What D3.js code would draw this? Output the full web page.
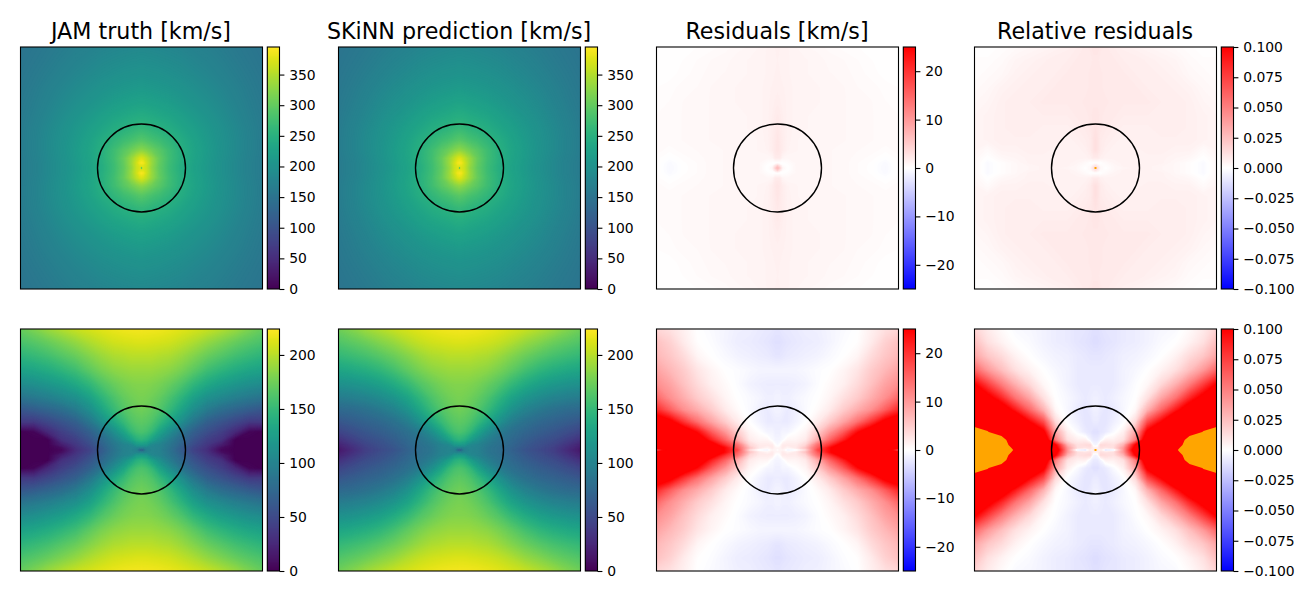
<!DOCTYPE html>
<html>
<head>
<meta charset="utf-8">
<title>JAM vs SKiNN</title>
<script src="https://cdn.jsdelivr.net/npm/d3@7"></script>
<style>
  body { margin: 0; background: #fff; }
  text { font-family: "DejaVu Sans", sans-serif; fill: #000; }
</style>
</head>
<body>
<script>
// each field is symmetric, so only one quadrant is kept
// rows go out from the centre along y, columns along x (gridNodes, image half width = 121)
const gridNodes = [0, 2, 5, 10, 18, 28, 40, 52, 66, 80, 94, 108, 121]
const circleRadius = 44

const titles = ["JAM truth [km/s]", "SKiNN prediction [km/s]", "Residuals [km/s]", "Relative residuals"]

const ticksVelTop = [0, 50, 100, 150, 200, 250, 300, 350]
const ticksVelBottom = [0, 50, 100, 150, 200]
const ticksRes = [-20, -10, 0, 10, 20]
const ticksRel = [-0.1, -0.075, -0.05, -0.025, 0, 0.025, 0.05, 0.075, 0.1]

const truthTop = [
  [215,372,362,332,298,270,245,228,212,198,185,172,163],
  [374,374,364,334,299,270,245,228,212,198,185,172,163],
  [392,386,366,336,300,271,247,229,213,198,185,172,163],
  [372,368,356,334,302,273,248,230,214,199,186,173,163],
  [325,323,318,308,292,271,248,231,215,200,187,174,164],
  [290,288,285,279,271,258,243,228,213,199,187,174,164],
  [262,262,260,256,250,243,232,221,209,197,185,173,163],
  [243,243,242,240,236,231,222,213,203,192,181,170,162],
  [226,226,225,224,221,217,210,203,195,186,176,167,160],
  [213,213,212,211,209,206,201,195,188,180,172,164,158],
  [202,202,201,200,199,196,192,187,181,174,167,161,156],
  [193,193,192,192,190,188,185,180,175,169,163,158,154],
  [185,185,185,184,183,181,178,174,170,165,160,156,152]
]
const predTop = [
  [220,374,363,332,298,271,246,229,213,198,185,172,163],
  [376,376,365,334,300,271,246,229,213,198,185,172,163],
  [392,387,367,337,301,272,248,230,214,199,185,172,163],
  [374,370,357,335,303,274,249,231,215,200,186,173,164],
  [328,325,320,309,293,272,249,232,216,201,188,175,165],
  [292,290,287,280,272,259,244,229,214,200,188,175,165],
  [264,264,262,257,251,244,233,222,210,198,186,174,164],
  [245,245,244,241,237,232,223,214,204,193,182,171,162],
  [228,228,227,225,222,218,211,204,196,187,177,167,160],
  [214,214,213,212,210,207,202,196,189,181,172,164,158],
  [203,203,202,201,200,197,193,188,182,175,167,161,156],
  [194,194,193,193,191,189,186,181,176,169,163,158,154],
  [186,186,186,185,184,182,179,175,170,165,160,156,152]
]
const resTop = [
  [7,5,1,0,.8,.8,.8,.8,.7,.4,.1,-.6,.3],
  [5,3,.5,0,.8,.8,.8,.8,.7,.4,.1,-.6,.3],
  [0,0,0,.3,.8,.8,.8,.8,.7,.4,.15,-.5,.3],
  [2,2,1,.8,.9,.8,.8,.8,.7,.5,.3,-.1,.3],
  [2.5,2.3,1.8,1.2,1,.9,.9,.8,.7,.6,.5,.3,.5],
  [2.5,2.2,1.8,1.3,1,.9,.9,.8,.8,.7,.6,.5,.5],
  [2.2,2,1.7,1.3,1.1,1,.9,.9,.8,.7,.6,.5,.5],
  [2,1.9,1.6,1.3,1.1,1,.9,.9,.8,.7,.6,.5,.4],
  [1.7,1.6,1.5,1.3,1.1,1,1,.9,.8,.7,.6,.4,.3],
  [1.5,1.5,1.4,1.3,1.1,1,1,.9,.8,.6,.5,.3,.2],
  [1.4,1.4,1.3,1.2,1.1,1,.9,.8,.7,.5,.3,.1,.1],
  [1.4,1.3,1.3,1.2,1.1,1,.9,.7,.6,.4,.2,.1,.1],
  [1.4,1.4,1.3,1.2,1,.8,.7,.5,.3,.2,.1,0,0]
]
const relTop = [
  [.012,.012,.003,0,.003,.004,.005,.005,.004,.003,.001,-.002,.003],
  [.012,.008,.002,.001,.003,.005,.005,.005,.004,.003,.001,-.002,.003],
  [0,0,0,.002,.004,.005,.005,.005,.005,.003,.001,-.002,.003],
  [.008,.008,.006,.005,.005,.005,.005,.005,.005,.004,.003,0,.003],
  [.012,.011,.008,.006,.005,.005,.005,.006,.006,.005,.005,.002,.004],
  [.012,.011,.008,.007,.006,.005,.006,.006,.006,.006,.006,.005,.004],
  [.011,.01,.009,.008,.007,.006,.006,.006,.007,.007,.006,.005,.004],
  [.01,.01,.009,.008,.008,.007,.007,.007,.007,.007,.006,.005,.004],
  [.009,.009,.009,.009,.008,.008,.008,.008,.007,.007,.006,.004,.003],
  [.009,.009,.009,.008,.008,.008,.008,.007,.007,.006,.005,.003,.002],
  [.009,.009,.009,.008,.008,.008,.007,.007,.006,.005,.003,.002,.001],
  [.009,.009,.008,.008,.008,.007,.007,.006,.005,.004,.002,.001,.001],
  [.01,.01,.009,.008,.007,.006,.005,.004,.003,.002,.001,0,0]
]
const truthBottom = [
  [60,75,95,102,98,85,65,45,30,5,0,0,0],
  [95,95,100,102,99,86,66,47,32,8,0,0,0],
  [122,120,118,105,100,88,70,52,36,18,0,0,0],
  [145,143,140,128,112,94,75,58,42,32,0,0,0],
  [160,159,157,150,130,110,87,68,54,42,26,3,0],
  [168,167,166,162,150,132,110,88,68,58,48,38,38],
  [175,174,173,170,163,150,130,110,92,80,72,65,60],
  [178,178,177,175,170,160,145,127,112,104,96,90,85],
  [182,182,182,181,178,172,162,148,135,125,118,112,108],
  [190,190,190,190,188,185,178,168,155,146,138,132,128],
  [200,200,200,200,198,196,190,182,172,164,156,150,145],
  [212,212,212,211,210,208,203,197,188,180,172,165,160],
  [221,220,220,220,219,217,214,210,205,198,190,180,172]
]
const predBottom = [
  [60,75,95,102,98,88,80,70,58,50,42,28,15],
  [95,95,100,102,99,88,80,71,60,52,43,30,18],
  [122,120,118,106,100,90,82,73,62,54,46,34,22],
  [145,143,140,128,112,96,85,76,66,58,52,42,32],
  [160,159,157,150,131,111,93,82,73,66,60,53,46],
  [168,167,166,162,151,133,113,95,83,75,70,65,60],
  [175,174,173,170,163,151,132,114,99,90,83,78,76],
  [178,178,177,175,170,161,146,130,116,107,100,96,93],
  [182,182,182,181,178,172,163,150,137,127,120,115,113],
  [190,190,190,190,188,185,178,169,157,147,140,135,132],
  [200,200,200,200,198,196,190,182,173,165,158,153,149],
  [212,212,212,211,210,208,204,198,189,182,174,168,163],
  [221,220,220,220,219,217,214,210,205,198,191,182,175]
]
const resBottom = [
  [0,1,1,-1.5,-1,3,18,24,30,30,30,28,15],
  [1,1,2,1,2,6,16,24,30,30,30,30,25],
  [-.5,0,2,2,2,4,14,20,28,30,30,30,30],
  [-1,-1,-.5,1,1,2,8,15,22,30,30,30,30],
  [-1.5,-1.5,-1,-1,0,1,5,10,16,24,30,30,30],
  [-1.8,-1.8,-2,-2,-1.2,0,2,5,9,14,20,27,30],
  [-1.2,-1.2,-1.5,-2,-1.5,-.5,.5,2,5,8,11,16,21],
  [-1.2,-1.2,-1.5,-1.5,-1,-.5,0,1,3,5,8,11,15],
  [-1.8,-1.8,-1.8,-1.8,-1.6,-1.2,-.3,.5,1.5,3.5,6,9,11],
  [-1,-1,-1,-1,-1,-.7,-.3,0,1,2.5,5,7,9],
  [-2.5,-2.5,-2.3,-2,-1.8,-1.5,-1.2,-.6,0,1,3.5,5.5,7],
  [-3,-3,-2.8,-2.5,-2.2,-1.9,-1.7,-1.1,-.3,.2,2,4.5,6],
  [-2.5,-2.5,-2.3,-2.2,-2,-1.6,-1.5,-1,-.5,0,1.5,3,4]
]
// values above overLimit are the orange pixels
const overLimit = 0.2
const relBottom = [
  [.01,.008,.005,-.018,-.012,.04,.12,.18,.19,.19,.25,.25,.25],
  [.006,.006,.012,.01,.012,.04,.11,.17,.18,.18,.25,.25,.25],
  [-.004,-.002,.015,.014,.012,.03,.10,.16,.18,.15,.25,.25,.25],
  [-.008,-.008,-.004,.006,.006,.012,.05,.13,.18,.105,.25,.25,.25],
  [-.012,-.012,-.01,-.008,-.002,.006,.035,.105,.17,.17,.15,.205,.25],
  [-.008,-.008,-.01,-.01,-.006,-.001,.015,.07,.10,.14,.15,.15,.15],
  [-.006,-.006,-.008,-.01,-.008,-.003,.003,.03,.06,.09,.12,.14,.15],
  [-.006,-.006,-.007,-.008,-.006,-.003,0,.012,.035,.055,.085,.11,.13],
  [-.008,-.008,-.008,-.008,-.008,-.005,-.001,.003,.015,.03,.05,.075,.10],
  [-.008,-.008,-.008,-.008,-.008,-.005,-.003,0,.005,.012,.025,.04,.06],
  [-.01,-.01,-.01,-.009,-.008,-.006,-.005,-.003,0,.005,.014,.022,.035],
  [-.013,-.013,-.012,-.011,-.01,-.008,-.007,-.005,-.002,0,.005,.012,.025],
  [-.012,-.012,-.011,-.01,-.01,-.008,-.007,-.005,-.003,-.002,.002,.008,.017]
]
// single orange pixel in the middle of the relative residual maps
const centrePixel = {at: 0, size: 2}

const panelLeft = [20.5, 338.5, 656.5, 974.5]
const panelTop = [47, 329]
const panelSize = 242
const levels = 256

const bwr = ([lo, hi]) => d3.scaleLinear().domain([lo, 0, hi]).range(["#0000ff", "#ffffff", "#ff0000"]).clamp(true)
const vir = ([lo, hi]) => d3.scaleSequential(d3.interpolateViridis).domain([lo, hi]).clamp(true)

// row, column, quadrant, colour scale, range, ticks, tick format
const panels = [
  {r: 0, c: 0, q: truthTop, cmap: vir, dom: [0, 395], ticks: ticksVelTop, fmt: d3.format("d")},
  {r: 0, c: 1, q: predTop, cmap: vir, dom: [0, 395], ticks: ticksVelTop, fmt: d3.format("d")},
  {r: 0, c: 2, q: resTop, cmap: bwr, dom: [-25, 25], ticks: ticksRes, fmt: d3.format("d")},
  {r: 0, c: 3, q: relTop, cmap: bwr, dom: [-0.1, 0.1], ticks: ticksRel, fmt: d3.format(".3f"), over: true},
  {r: 1, c: 0, q: truthBottom, cmap: vir, dom: [0, 224], ticks: ticksVelBottom, fmt: d3.format("d")},
  {r: 1, c: 1, q: predBottom, cmap: vir, dom: [0, 224], ticks: ticksVelBottom, fmt: d3.format("d")},
  {r: 1, c: 2, q: resBottom, cmap: bwr, dom: [-25, 25], ticks: ticksRes, fmt: d3.format("d")},
  {r: 1, c: 3, q: relBottom, cmap: bwr, dom: [-0.1, 0.1], ticks: ticksRel, fmt: d3.format(".3f"), over: true}
]

// whole axis from the quadrant nodes, -121 ... 0 ... 121
const fullNodes = gridNodes.slice(1).reverse().map(d => -d).concat(gridNodes)
const n = fullNodes.length

// contour output is in cell units, centres at i + 0.5
const cellToData = d3.scaleLinear()
  .domain([0].concat(d3.range(n).map(i => i + 0.5), [n]))
  .range([fullNodes[0]].concat(fullNodes, [fullNodes[n - 1]]))

function unfold(q) {
  const rows = q.slice(1).reverse().concat(q)
  return rows.flatMap(row => row.slice(1).reverse().concat(row))
}

const svg = d3.select("body").append("svg")
  .attr("width", 1300)
  .attr("height", 600)

svg.selectAll("text.title")
  .data(titles)
  .join("text")
    .attr("class", "title")
    .attr("x", (d, i) => panelLeft[i] + panelSize / 2 - 0.5)
    .attr("y", 39)
    .attr("text-anchor", "middle")
    .attr("font-size", 22.2)
    .text(d => d)

panels.forEach(p => {
  const x0 = panelLeft[p.c], y0 = panelTop[p.r]
  const x = d3.scaleLinear().domain([-121, 121]).range([x0, x0 + panelSize])
  const y = d3.scaleLinear().domain([-121, 121]).range([y0, y0 + panelSize])
  const color = p.cmap(p.dom)
  const g = svg.append("g")

  const step = (p.dom[1] - p.dom[0]) / levels
  let thresholds = [-1e9].concat(d3.range(1, levels).map(i => p.dom[0] + i * step))
  if (p.over) thresholds.push(overLimit)

  const fillFor = t => t === overLimit ? "orange" : color(t === -1e9 ? p.dom[0] : t + step / 2)

  const path = d3.geoPath(d3.geoTransform({
    point(cx, cy) { this.stream.point(x(cellToData(cx)), y(cellToData(cy))) }
  }))

  g.selectAll("path")
    .data(d3.contours().size([n, n]).thresholds(thresholds)(unfold(p.q)))
    .join("path")
      .attr("d", path)
      .attr("fill", d => fillFor(d.value))

  if (p.over) {
    g.append("rect")
      .attr("x", x(centrePixel.at - centrePixel.size / 2))
      .attr("y", y(centrePixel.at - centrePixel.size / 2))
      .attr("width", x(centrePixel.size) - x(0))
      .attr("height", y(centrePixel.size) - y(0))
      .attr("fill", "orange")
  }

  g.append("circle")
    .attr("cx", x(0))
    .attr("cy", y(0))
    .attr("r", x(circleRadius) - x(0))
    .attr("fill", "none")
    .attr("stroke", "#000")
    .attr("stroke-width", 1.4)

  g.append("rect")
    .attr("x", x0)
    .attr("y", y0)
    .attr("width", panelSize)
    .attr("height", panelSize)
    .attr("fill", "none")
    .attr("stroke", "#000")
    .attr("stroke-width", 1.1)

  // colorbar, one row per pixel
  const cbX = x0 + panelSize + 4.8, cbW = 12.2
  const cbY = d3.scaleLinear().domain(p.dom).range([y0 + panelSize, y0])
  const cb = svg.append("g").attr("transform", `translate(${cbX},0)`)

  cb.selectAll("rect.cell")
    .data(d3.range(panelSize).map(i => y0 + i))
    .join("rect")
      .attr("class", "cell")
      .attr("y", d => d)
      .attr("width", cbW)
      .attr("height", 1)
      .attr("shape-rendering", "crispEdges")
      .attr("fill", d => color(cbY.invert(d + 0.5)))

  cb.append("rect")
    .attr("y", y0)
    .attr("width", cbW)
    .attr("height", panelSize)
    .attr("fill", "none")
    .attr("stroke", "#000")
    .attr("stroke-width", 1.1)

  const axis = cb.append("g")
    .attr("transform", `translate(${cbW},0)`)
    .call(d3.axisRight(cbY)
      .tickValues(p.ticks)
      .tickSize(4.9)
      .tickPadding(4.8)
      .tickFormat(d => p.fmt(d).replace("-", "\u2212")))
  axis.select(".domain").remove()
  axis.selectAll("text").attr("font-size", 13.9).attr("font-family", '"DejaVu Sans"')
  axis.selectAll("line").attr("stroke-width", 1.1)
})
</script>
</body>
</html>
